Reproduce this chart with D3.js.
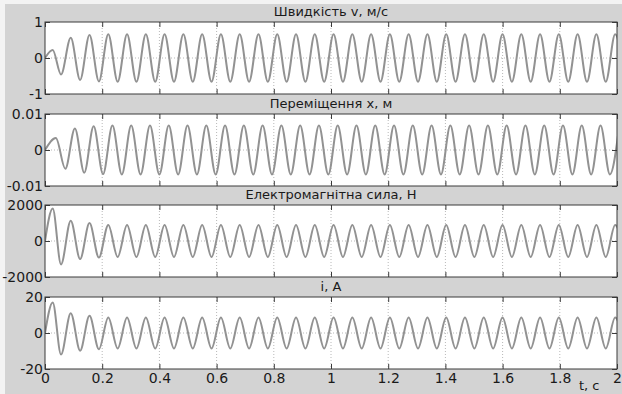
<!DOCTYPE html>
<html>
<head>
<meta charset="utf-8">
<script src="https://cdn.jsdelivr.net/npm/d3@7/dist/d3.min.js"></script>
<style>
    html, body {margin: 0; padding: 0; background: #f3f3f3;}
    svg {display: block;}
    .tick text {font-family: "DejaVu Sans", sans-serif; font-size: 14px; fill: #1a1a1a;}
    .tick line {stroke: #3a3a3a;}
    .title {font-family: "DejaVu Sans", sans-serif; font-size: 13px; fill: #1a1a1a;}
</style>
</head>
<body>
<div id="chart"></div>
<script>
/*global d3*/

//Times (s) of the extrema - velocity, force and current share them
var tMain = [0, 0.027, 0.056,
    0.0900, 0.1228, 0.1556, 0.1885, 0.2213, 0.2541, 0.2869, 0.3197, 0.3526, 0.3854,
    0.4182, 0.4510, 0.4838, 0.5167, 0.5495, 0.5823, 0.6151, 0.6479, 0.6808, 0.7136,
    0.7464, 0.7792, 0.8120, 0.8449, 0.8777, 0.9105, 0.9433, 0.9761, 1.0090, 1.0418,
    1.0746, 1.1074, 1.1402, 1.1731, 1.2059, 1.2387, 1.2715, 1.3043, 1.3372, 1.3700,
    1.4028, 1.4356, 1.4684, 1.5013, 1.5341, 1.5669, 1.5997, 1.6325, 1.6654, 1.6982,
    1.7310, 1.7638, 1.7966, 1.8295, 1.8623, 1.8951, 1.9279, 1.9607, 1.9936, 2.0264];

//Displacement lags the velocity by a quarter period
var tDisp = [0, 0.038, 0.071,
    0.1045, 0.1373, 0.1701, 0.2030, 0.2358, 0.2686, 0.3014, 0.3342, 0.3671, 0.3999,
    0.4327, 0.4655, 0.4983, 0.5312, 0.5640, 0.5968, 0.6296, 0.6624, 0.6953, 0.7281,
    0.7609, 0.7937, 0.8265, 0.8594, 0.8922, 0.9250, 0.9578, 0.9906, 1.0235, 1.0563,
    1.0891, 1.1219, 1.1547, 1.1876, 1.2204, 1.2532, 1.2860, 1.3188, 1.3517, 1.3845,
    1.4173, 1.4501, 1.4829, 1.5158, 1.5486, 1.5814, 1.6142, 1.6470, 1.6799, 1.7127,
    1.7455, 1.7783, 1.8111, 1.8440, 1.8768, 1.9096, 1.9424, 1.9752, 2.0081];

var velocity = [0, 0.22, -0.46, 0.56, -0.61, 0.64, -0.65,
    0.66, -0.66, 0.66, -0.66, 0.66, -0.66, 0.66, -0.66, 0.66, -0.66, 0.66, -0.66,
    0.66, -0.66, 0.66, -0.66, 0.66, -0.66, 0.66, -0.66, 0.66, -0.66, 0.66, -0.66,
    0.66, -0.66, 0.66, -0.66, 0.66, -0.66, 0.66, -0.66, 0.66, -0.66, 0.66, -0.66,
    0.66, -0.66, 0.66, -0.66, 0.66, -0.66, 0.66, -0.66, 0.66, -0.66, 0.66, -0.66,
    0.66, -0.66, 0.66, -0.66, 0.66, -0.66, 0.66, -0.66];

var displacement = [0, 0.0033, -0.0052, 0.0060, -0.0063, 0.0066, -0.0067,
    0.0068, -0.0068, 0.0068, -0.0068, 0.0068, -0.0068, 0.0068, -0.0068, 0.0068, -0.0068,
    0.0068, -0.0068, 0.0068, -0.0068, 0.0068, -0.0068, 0.0068, -0.0068, 0.0068, -0.0068,
    0.0068, -0.0068, 0.0068, -0.0068, 0.0068, -0.0068, 0.0068, -0.0068, 0.0068, -0.0068,
    0.0068, -0.0068, 0.0068, -0.0068, 0.0068, -0.0068, 0.0068, -0.0068, 0.0068, -0.0068,
    0.0068, -0.0068, 0.0068, -0.0068, 0.0068, -0.0068, 0.0068, -0.0068, 0.0068, -0.0068,
    0.0068, -0.0068, 0.0068, -0.0068, 0.0068];

var force = [0, 1800, -1300, 1130, -1000, 1000, -920,
    890, -890, 890, -890, 890, -890, 890, -890, 890, -890, 890, -890,
    890, -890, 890, -890, 890, -890, 890, -890, 890, -890, 890, -890,
    890, -890, 890, -890, 890, -890, 890, -890, 890, -890, 890, -890,
    890, -890, 890, -890, 890, -890, 890, -890, 890, -890, 890, -890,
    890, -890, 890, -890, 890, -890, 890, -890];

var current = [0, 17, -12, 11, -9.8, 9.6, -9,
    8.6, -8.6, 8.6, -8.6, 8.6, -8.6, 8.6, -8.6, 8.6, -8.6, 8.6, -8.6,
    8.6, -8.6, 8.6, -8.6, 8.6, -8.6, 8.6, -8.6, 8.6, -8.6, 8.6, -8.6,
    8.6, -8.6, 8.6, -8.6, 8.6, -8.6, 8.6, -8.6, 8.6, -8.6, 8.6, -8.6,
    8.6, -8.6, 8.6, -8.6, 8.6, -8.6, 8.6, -8.6, 8.6, -8.6, 8.6, -8.6,
    8.6, -8.6, 8.6, -8.6, 8.6, -8.6, 8.6, -8.6];

var titles = ["Швидкість v, м/с", "Переміщення x, м", "Електромагнітна сила, Н", "i, A"];
var yTicks = [[-1, 0, 1], [-0.01, 0, 0.01], [-2000, 0, 2000], [-20, 0, 20]];
var xTicks = [0, 0.2, 0.4, 0.6, 0.8, 1, 1.2, 1.4, 1.6, 1.8, 2];
var xLabel = "t, c";

var series = [
    {t: tMain, v: velocity},
    {t: tDisp, v: displacement},
    {t: tMain, v: force},
    {t: tMain, v: current}
];

//Canvas
var width = 622,
    height = 394,
    left = 45,
    right = 617,
    tops = [22, 114, 205, 297],
    panelH = 72;

var svg = d3.select("#chart").append("svg")
    .attr("width", width)
    .attr("height", height);

//Grey figure background
svg.append("rect")
    .attr("x", 5).attr("y", 4)
    .attr("width", width - 5).attr("height", height - 4)
    .attr("fill", "#d3d3d3");

var x = d3.scaleLinear().domain([0, 2]).range([left, right]);

tops.forEach(function (top, i) {
    var ticks = yTicks[i],
        y = d3.scaleLinear()
            .domain([ticks[0], ticks[ticks.length - 1]])
            .range([top + panelH, top]);

    var g = svg.append("g");

    g.append("rect")
        .attr("x", left).attr("y", top)
        .attr("width", right - left).attr("height", panelH)
        .attr("fill", "#ffffff");

    //dotted grid
    g.selectAll("line.vgrid")
        .data(xTicks.slice(1, -1))
        .enter().append("line")
        .attr("class", "vgrid")
        .attr("x1", function (d) {return x(d)})
        .attr("x2", function (d) {return x(d)})
        .attr("y1", top).attr("y2", top + panelH)
        .attr("stroke", "#b8b8b8")
        .attr("stroke-dasharray", "1,2");

    g.selectAll("line.hgrid")
        .data(ticks.slice(1, -1))
        .enter().append("line")
        .attr("class", "hgrid")
        .attr("x1", left).attr("x2", right)
        .attr("y1", function (d) {return y(d)})
        .attr("y2", function (d) {return y(d)})
        .attr("stroke", "#b8b8b8")
        .attr("stroke-dasharray", "1,2");

    //signal, clipped to the plot box
    g.append("clipPath")
        .attr("id", "clip" + i)
        .append("rect")
        .attr("x", left).attr("y", top)
        .attr("width", right - left).attr("height", panelH);

    var pts = series[i].t.map(function (t, k) {return [t, series[i].v[k]]});
    var line = d3.line()
        .x(function (d) {return x(d[0])})
        .y(function (d) {return y(d[1])})
        .curve(d3.curveMonotoneX);

    g.append("path")
        .attr("clip-path", "url(#clip" + i + ")")
        .attr("d", line(pts))
        .attr("fill", "none")
        .attr("stroke", "#929292")
        .attr("stroke-width", 2);

    //axes: ticks pointing inwards on all four sides
    var yAxis = d3.axisLeft(y).tickValues(ticks).tickSize(-5).tickPadding(2)
        .tickFormat(function (d) {return String(d)});
    g.append("g").attr("transform", "translate(" + left + ",0)").call(yAxis)
        .call(function (s) {s.select(".domain").remove()});

    g.append("g").attr("transform", "translate(" + right + ",0)")
        .call(d3.axisRight(y).tickValues(ticks).tickSize(-5).tickFormat(""))
        .call(function (s) {s.select(".domain").remove()});

    g.append("g").attr("transform", "translate(0," + top + ")")
        .call(d3.axisTop(x).tickValues(xTicks).tickSize(-5).tickFormat(""))
        .call(function (s) {s.select(".domain").remove()});

    var xAxis = d3.axisBottom(x).tickValues(xTicks).tickSize(-5).tickPadding(4)
        .tickFormat(function (d) {return i === 3 ? String(d) : ""});
    g.append("g").attr("transform", "translate(0," + (top + panelH) + ")").call(xAxis)
        .call(function (s) {s.select(".domain").remove()});

    g.append("rect")
        .attr("x", left).attr("y", top)
        .attr("width", right - left).attr("height", panelH)
        .attr("fill", "none")
        .attr("stroke", "#3a3a3a");

    g.append("text")
        .attr("class", "title")
        .attr("x", (left + right) / 2)
        .attr("y", top - 6)
        .attr("text-anchor", "middle")
        .text(titles[i]);
});

svg.append("text")
    .attr("class", "title")
    .attr("x", 579)
    .attr("y", 390)
    .text(xLabel);
</script>
</body>
</html>
